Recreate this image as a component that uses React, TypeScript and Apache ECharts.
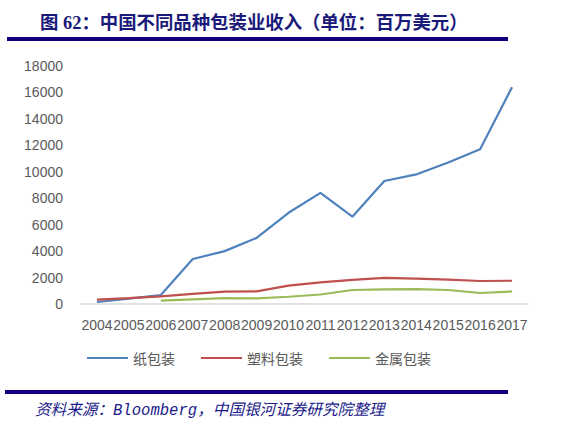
import React, { useEffect, useRef } from 'react';
import * as echarts from 'echarts';

const years = ['2004', '2005', '2006', '2007', '2008', '2009', '2010', '2011', '2012', '2013', '2014', '2015', '2016', '2017'];
const paper = [150, 400, 680, 3400, 4000, 5000, 6900, 8400, 6600, 9300, 9800, 10700, 11700, 16400];
const plastic = [330, 450, 580, 760, 930, 950, 1390, 1640, 1820, 1970, 1920, 1840, 1740, 1760];
const metal = [null, null, 250, 350, 450, 430, 550, 720, 1060, 1110, 1130, 1060, 830, 950];
const seriesNames = ['纸包装', '塑料包装', '金属包装'];
const colors = ['#4F81BD', '#C0504D', '#9BBB59'];

export default function App() {
  const ref = useRef<HTMLDivElement>(null);
  useEffect(() => {
    document.body.style.margin = '0';
    if (!ref.current) return;
    const chart = echarts.init(ref.current, undefined, { renderer: 'svg' });
    const navy = '#14007F';
    chart.setOption({
      animation: false,
      backgroundColor: '#fff',
      title: {
        text: '图 62：中国不同品种包装业收入（单位：百万美元）',
        left: 35,
        top: 9,
        textStyle: { fontSize: 18.4, fontWeight: 'bold', color: '#1A1A7A', fontFamily: '"Liberation Serif", "Noto Sans CJK SC", serif' }
      },
      graphic: [
        { type: 'rect', shape: { x: 7, y: 37, width: 501, height: 4 }, style: { fill: navy } },
        { type: 'rect', shape: { x: 5, y: 390, width: 503, height: 4 }, style: { fill: navy } },
        {
          type: 'text', x: 35, y: 403,
          style: {
            text: '资料来源：Bloomberg，中国银河证券研究院整理',
            fill: '#1A1A8A', fontSize: 15.6, fontStyle: 'italic',
            fontFamily: '"Liberation Mono", "Noto Sans CJK SC", monospace'
          }
        }
      ],
      legend: {
        left: 82, top: 346, icon: 'rect', itemWidth: 41, itemHeight: 2, itemGap: 26,
        textStyle: { fontSize: 14, color: '#595959', fontFamily: '"Noto Sans CJK SC", sans-serif' },
        data: seriesNames
      },
      grid: { left: 81, right: 43, top: 66, bottom: 122 },
      xAxis: {
        type: 'category', data: years, boundaryGap: true,
        axisLine: { lineStyle: { color: '#D9D9D9', width: 1.5 } },
        axisTick: { show: false },
        axisLabel: { interval: 0, color: '#595959', fontSize: 14, margin: 14, fontFamily: '"Liberation Sans", Arial, sans-serif' }
      },
      yAxis: {
        type: 'value', min: 0, max: 18000, interval: 2000,
        axisLine: { show: false }, axisTick: { show: false }, splitLine: { show: false },
        axisLabel: { color: '#595959', fontSize: 14, margin: 18, formatter: (v: number) => String(v), fontFamily: '"Liberation Sans", Arial, sans-serif' }
      },
      series: [
        { name: seriesNames[0], type: 'line', data: paper, symbol: 'none', lineStyle: { width: 2.2, color: colors[0] }, itemStyle: { color: colors[0] } },
        { name: seriesNames[1], type: 'line', data: plastic, symbol: 'none', lineStyle: { width: 2.2, color: colors[1] }, itemStyle: { color: colors[1] } },
        { name: seriesNames[2], type: 'line', data: metal, symbol: 'none', lineStyle: { width: 2.2, color: colors[2] }, itemStyle: { color: colors[2] } }
      ]
    });
    return () => { chart.dispose(); };
  }, []);
  return <div ref={ref} style={{ width: '571px', height: '426px' }} />;
}
